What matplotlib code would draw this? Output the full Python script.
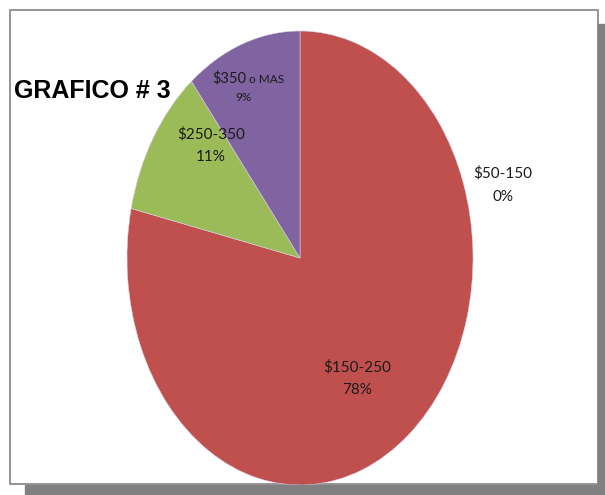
import matplotlib.pyplot as plt
from matplotlib.patches import Rectangle

# rangos de precio (GRAFICO # 3)
categories = ['$50-150', '$150-250', '$250-350', '$350 o MAS']
values = [0.0, 78.5, 10.7, 10.8]          # share of the pie as drawn
pct_labels = ['0%', '78%', '11%', '9%']   # percentages printed on the chart
colors = ['#4F81BD', '#C0504D', '#9BBB59', '#8064A2']

# label anchors in pie data coords: (x, y of category line, y of percent line)
label_pos = [(1.173, 0.374, 0.269), (0.329, -0.480, -0.581),
             (-0.514, 0.546, 0.445), (-0.329, 0.797, 0.705)]

W, H = 605, 495
fig = plt.figure(figsize=(W / 100, H / 100), dpi=100)
LABEL_FONT = ['Lato', 'DejaVu Sans']
TXT = '#1a1a1a'

def fx(px):
    return px / W

def fy(py):
    return 1 - py / H

# frame (behind the pie) + drop shadow (on top)
fig.patches.append(Rectangle((fx(9.5), fy(484)), fx(588.5), (484 - 9.5) / H,
                             transform=fig.transFigure, facecolor='white',
                             edgecolor='#8c8c8c', linewidth=1.3, zorder=-1))
fig.patches.append(Rectangle((fx(598), fy(495)), fx(7), (495 - 24) / H,
                             transform=fig.transFigure, color='#808080', zorder=5))
fig.patches.append(Rectangle((fx(25), fy(495)), fx(580), 10 / H,
                             transform=fig.transFigure, color='#808080', zorder=5))

# pie axes: stretched vertically like the original
ax = fig.add_axes([fx(127), fy(485), fx(346), 454 / H])
ax.set_zorder(1)
ax.pie(values, colors=colors, startangle=90, counterclock=False,
       wedgeprops=dict(edgecolor='#d9d2e6', linewidth=0.4), radius=1.0)
ax.set_aspect('auto')
ax.set_xlim(-1, 1)
ax.set_ylim(-1, 1)
ax.axis('off')

for cat, pct, (x, y1, y2) in zip(categories, pct_labels, label_pos):
    if ' o ' in cat:
        # "$350" normal size, "o MAS" smaller on the same baseline
        head, tail = cat.split(' ', 1)
        ax.text(x + 0.02, y1 - 0.025, head, ha='right', va='baseline',
                fontsize=10.5, family=LABEL_FONT, color=TXT)
        ax.text(x + 0.035, y1 - 0.025, tail, ha='left', va='baseline',
                fontsize=8.5, family=LABEL_FONT, color=TXT)
        ax.text(x, y2, pct, ha='center', va='center', fontsize=8.5,
                family=LABEL_FONT, color=TXT)
    else:
        ax.text(x, y1, cat, ha='center', va='center', fontsize=11,
                family=LABEL_FONT, color=TXT, clip_on=False)
        ax.text(x, y2, pct, ha='center', va='center', fontsize=11,
                family=LABEL_FONT, color=TXT, clip_on=False)

fig.text(fx(14), fy(91), 'GRAFICO # 3', fontsize=18, fontweight='bold',
         family=['Liberation Sans', 'DejaVu Sans'], ha='left', va='center',
         zorder=6)

fig.savefig('out.png', dpi=100)
